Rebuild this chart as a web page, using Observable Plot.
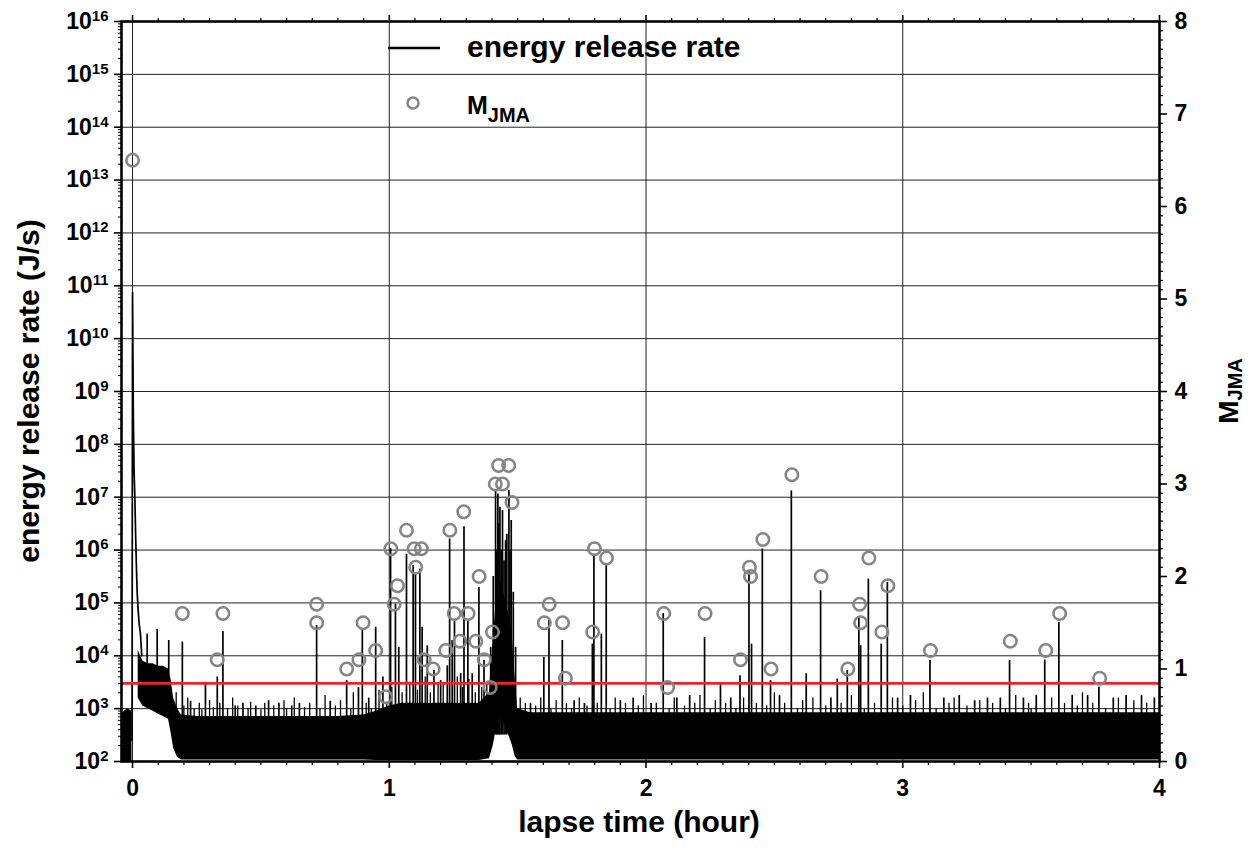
<!DOCTYPE html>
<html><head><meta charset="utf-8">
<script src="https://cdn.jsdelivr.net/npm/d3@7"></script>
<script src="https://cdn.jsdelivr.net/npm/@observablehq/plot@0.6"></script>
<style>
body{margin:0;background:#fff;}
#wrap{position:relative;width:1260px;height:856px;}
#wrap svg{position:absolute;left:0;top:0;}
</style></head><body><div id="wrap"></div>
<script>
// ---- data ----
// background noise envelope of the energy release rate (log10 J/s)
const bandT  = [-0.043,-0.02,-0.002,0,0.022,0.04,0.06,0.08,0.10,0.12,0.14,0.15,0.16,0.175,0.19,0.25,0.3,0.4,0.5,0.6,0.7,0.8,0.9,0.95,1.0,1.05,1.1,1.15,1.2,1.25,1.3,1.35,1.39,1.405,1.42,1.435,1.45,1.465,1.48,1.49,1.5,1.55,1.6,1.7,1.8,1.9,2.0,2.2,2.4,2.6,2.8,3.0,3.2,3.4,3.6,3.8,4.0];
const bandLo = [2.0,2.0,2.0,null,3.2,3.05,3.0,2.95,2.9,2.85,2.8,2.55,2.25,2.08,2.03,2.03,2.03,2.03,2.03,2.03,2.03,2.03,2.03,2.02,2.02,2.02,2.02,2.02,2.02,2.02,2.02,2.02,2.05,2.3,2.7,2.8,2.7,2.5,2.3,2.1,2.03,2.03,2.03,2.03,2.03,2.03,2.03,2.03,2.03,2.03,2.03,2.03,2.03,2.03,2.03,2.03,2.03];
const bandHi = [2.9,3.0,2.95,null,4.1,3.9,3.85,3.85,3.8,3.8,3.75,3.55,3.2,3.0,2.88,2.85,2.85,2.85,2.85,2.85,2.85,2.85,2.88,2.95,3.05,3.1,3.1,3.1,3.1,3.1,3.1,3.1,3.3,4.3,5.2,5.4,5.1,4.8,4.3,3.6,3.0,2.92,2.92,2.92,2.92,2.92,2.92,2.92,2.92,2.92,2.92,2.92,2.92,2.92,2.92,2.92,2.92];
// main shock and its decay (log10 J/s)
const shockT   = [-0.002,0,0.003,0.006,0.009,0.012,0.015,0.018,0.022,0.026,0.031,0.036];
const shockLog = [2.4,10.87,8.6,7.5,7.0,6.3,5.7,5.2,4.85,4.6,4.4,4.0];
// individual spikes: time (hour) and peak (log10 J/s)
const spikeT   = [0.057,0.096,0.141,0.194,0.226,0.284,0.33,0.352,0.40,0.43,0.48,0.53,0.57,0.62,0.65,0.717,0.77,0.834,0.88,0.895,0.92,0.947,0.975,1.005,1.024,1.037,1.067,1.093,1.102,1.119,1.128,1.148,1.174,1.2,1.226,1.235,1.245,1.254,1.278,1.291,1.306,1.323,1.349,1.369,1.395,1.405,1.414,1.418,1.423,1.427,1.431,1.436,1.441,1.447,1.453,1.458,1.466,1.47,1.475,1.483,1.492,1.55,1.602,1.622,1.674,1.72,1.76,1.791,1.797,1.826,1.845,1.9,1.95,2.02,2.067,2.12,2.17,2.228,2.29,2.33,2.366,2.401,2.411,2.453,2.485,2.52,2.566,2.624,2.68,2.72,2.745,2.784,2.829,2.836,2.866,2.916,2.94,2.98,3.03,3.106,3.16,3.22,3.28,3.33,3.38,3.416,3.47,3.52,3.553,3.608,3.66,3.72,3.764,3.82,3.87,3.93,3.98];
const spikeLog = [4.41,4.5,4.29,4.26,3.14,3.5,3.6,4.46,3.05,3.1,3.05,3.15,3.1,3.05,3.1,4.57,3.14,3.53,3.4,4.48,3.2,4.54,3.6,6.03,4.98,4.16,5.92,5.71,5.55,5.64,4.54,4.19,3.72,3.53,3.81,6.21,4.29,4.67,3.66,6.44,4.67,3.66,5.29,3.91,4.16,5.5,7.12,6.0,7.06,6.5,6.81,6.0,6.75,5.8,6.18,6.3,7.12,6.0,6.56,5.2,4.16,3.1,3.97,4.67,4.29,3.15,3.1,4.22,5.92,4.41,5.71,3.15,3.2,3.1,4.80,3.2,3.25,4.35,3.47,3.2,3.62,5.61,4.22,6.02,3.53,3.25,7.12,3.66,5.23,3.2,3.56,3.72,4.73,4.19,5.45,4.22,5.39,3.2,3.25,3.91,3.2,3.25,3.15,3.2,3.2,3.91,3.2,3.25,3.92,4.63,3.25,3.25,3.41,3.2,3.25,3.25,3.2];
// small noise peaks above the background band: time (hour) and peak (log10 J/s)
const minorT   = [0.17,0.2,0.215,0.24,0.26,0.27,0.3,0.315,0.34,0.37,0.39,0.41,0.45,0.46,0.5,0.515,0.55,0.59,0.6,0.63,0.67,0.69,0.73,0.75,0.79,0.81,0.85,0.86,0.91,0.93,0.96,0.99,1.01,1.05,1.08,1.11,1.14,1.16,1.19,1.21,1.265,1.285,1.31,1.335,1.36,1.38,1.51,1.53,1.57,1.59,1.63,1.65,1.69,1.71,1.74,1.77,1.81,1.86,1.88,1.92,1.97,1.99,2.04,2.09,2.11,2.15,2.19,2.21,2.25,2.27,2.31,2.35,2.38,2.43,2.47,2.5,2.54,2.59,2.61,2.65,2.7,2.76,2.8,2.85,2.89,2.96,3.0,3.05,3.08,3.13,3.18,3.2,3.25,3.3,3.35,3.4,3.44,3.49,3.5,3.58,3.63,3.68,3.7,3.74,3.79,3.84,3.9,3.95];
const minorLog = [3.3,3.05,3.2,3.0,3.1,2.98,3.15,3.02,3.1,3.0,3.2,3.05,3.0,3.12,2.98,3.1,3.05,3.15,3.0,3.2,3.02,3.1,3.0,3.25,3.05,3.15,3.0,3.3,3.1,3.0,3.35,3.1,3.4,3.3,3.5,3.35,3.6,3.3,3.45,3.5,3.6,3.4,3.55,3.3,3.4,3.5,3.2,3.1,3.05,3.2,3.0,3.15,3.1,3.0,3.2,3.05,3.1,3.0,3.2,3.1,3.05,3.25,3.1,3.0,3.2,3.05,3.1,3.25,3.0,3.15,3.1,3.0,3.2,3.1,3.05,3.3,3.1,3.0,3.15,3.2,3.05,3.1,3.25,3.0,3.1,3.2,3.05,3.15,3.3,3.0,3.1,3.2,3.05,3.15,3.1,3.0,3.25,3.1,3.0,3.2,3.1,3.05,3.3,3.1,3.0,3.2,3.15,3.1];
// earthquakes: time (hour) and magnitude M_JMA
const quakeT = [0.0,0.194,0.33,0.352,0.717,0.717,0.834,0.882,0.898,0.947,0.986,1.006,1.019,1.032,1.067,1.097,1.103,1.125,1.136,1.171,1.22,1.236,1.253,1.275,1.29,1.307,1.337,1.35,1.37,1.393,1.402,1.413,1.426,1.441,1.465,1.478,1.604,1.623,1.675,1.686,1.792,1.799,1.846,2.069,2.084,2.23,2.368,2.403,2.407,2.455,2.487,2.568,2.682,2.786,2.832,2.836,2.868,2.919,2.942,3.108,3.419,3.557,3.611,3.767];
const quakeM = [6.5,1.6,1.1,1.6,1.7,1.5,1.0,1.1,1.5,1.2,0.7,2.3,1.7,1.9,2.5,2.3,2.1,2.3,1.1,1.0,1.2,2.5,1.6,1.3,2.7,1.6,1.3,2.0,1.1,0.8,1.4,3.0,3.2,3.0,3.2,2.8,1.5,1.7,1.5,0.9,1.4,2.3,2.2,1.6,0.8,1.6,1.1,2.1,2.0,2.4,1.0,3.1,2.0,1.0,1.7,1.5,2.2,1.4,1.9,1.2,1.3,1.2,1.6,0.9];
const threshold = 3000;           // J/s, red line
const xTicks = [0,1,2,3,4];
const xDomain = [-0.043, 4];
const yExpTicks = [2,3,4,5,6,7,8,9,10,11,12,13,14,15,16];
const mTicks = [0,1,2,3,4,5,6,7,8];

// ---- derived tables ----
const band = bandT.map((t,i)=>({t, lo: bandLo[i]==null?NaN:10**bandLo[i], hi: bandHi[i]==null?NaN:10**bandHi[i]}));
const shock = shockT.map((t,i)=>({t, v:10**shockLog[i]}));
const spikes = spikeT.map((t,i)=>({t, v:10**spikeLog[i], b: t<0.15 ? 10**3.5 : 10**2.5}));
const minors = minorT.map((t,i)=>({t, v:10**minorLog[i], b:10**2.5}));
const quakes = quakeT.map((t,i)=>({t, m:quakeM[i]}));
const xMinor = d3.range(0,40).map(i=>i/10).filter(v=>!Number.isInteger(v));
const yMajor = yExpTicks.map(e=>10**e);
const yMinor = []; yExpTicks.slice(0,-1).forEach(e=>{for(let k=2;k<=9;k++) yMinor.push(k*10**e);});
const gridYv = yExpTicks.slice(1,-1).map(e=>10**e);
const mMinor = d3.range(0,80).map(i=>i/10).filter(v=>!Number.isInteger(v));

const W=1260,H=856;
const margins = {marginLeft:121, marginRight:101, marginTop:21, marginBottom:95};
const font = "bold 23px 'Liberation Sans', Arial, Helvetica, sans-serif";

const p1 = Plot.plot({
  width:W, height:H, ...margins,
  style:{font, background:"white", color:"black", overflow:"visible"},
  x:{domain:xDomain},
  y:{type:"log", domain:[1e2,1e16]},
  marks:[
    Plot.gridX({ticks:[0,1,2,3], stroke:"#222", strokeOpacity:1, strokeWidth:1}),
    Plot.gridY({ticks:gridYv, stroke:"#222", strokeOpacity:1, strokeWidth:1}),
    Plot.areaY(band, {x:"t", y1:"lo", y2:"hi", fill:"black"}),
    Plot.ruleX(minors, {x:"t", y1:"b", y2:"v", stroke:"black", strokeWidth:1.3}),
    Plot.ruleX(spikes, {x:"t", y1:"b", y2:"v", stroke:"black", strokeWidth:1.7}),
    Plot.line(shock, {x:"t", y:"v", stroke:"black", strokeWidth:1.7}),
    Plot.ruleY([threshold], {stroke:"#ec2328", strokeWidth:2.6}),
    Plot.axisX({anchor:"bottom", ticks:xTicks, tickSize:7, tickPadding:11, strokeWidth:1.6, label:null, tickFormat:d=>String(d)}),
    Plot.axisX({anchor:"bottom", ticks:xMinor, tickSize:4, strokeWidth:1.2, label:null, tickFormat:()=>""}),
    Plot.axisX({anchor:"top", ticks:xTicks, tickSize:7, strokeWidth:1.6, label:null, tickFormat:()=>""}),
    Plot.axisX({anchor:"top", ticks:xMinor, tickSize:4, strokeWidth:1.2, label:null, tickFormat:()=>""}),
    Plot.axisY({anchor:"left", ticks:yMajor, tickSize:7, tickPadding:6, strokeWidth:1.6, label:null, tickFormat:d=>String(Math.round(Math.log10(d)))}),
    Plot.axisY({anchor:"left", ticks:yMinor, tickSize:3, strokeWidth:1, label:null, tickFormat:()=>""}),
    Plot.frame({stroke:"black", strokeWidth:2.6})
  ]
});

const p2 = Plot.plot({
  width:W, height:H, ...margins,
  style:{font, background:"transparent", color:"black", overflow:"visible"},
  x:{domain:xDomain, axis:null},
  y:{domain:[0,8]},
  marks:[
    Plot.dot(quakes, {x:"t", y:"m", r:6.2, stroke:"#858585", strokeWidth:2.6, fill:"none"}),
    Plot.axisY({anchor:"right", ticks:mTicks, tickSize:7, tickPadding:8, strokeWidth:1.6, label:null, tickFormat:d=>String(d)}),
    Plot.axisY({anchor:"right", ticks:mMinor, tickSize:3, strokeWidth:1.2, label:null, tickFormat:()=>""})
  ]
});

// superscript exponents on the log axis
d3.select(p1).selectAll('g[aria-label="y-axis tick label"] text').each(function(){
  const e = this.textContent; if(!e) return;
  const s = d3.select(this); s.text(null);
  s.append("tspan").text("10");
  s.append("tspan").attr("dy","-8").attr("font-size","15px").text(e);
});

const wrap = document.getElementById("wrap");
wrap.appendChild(p1);
wrap.appendChild(p2);

// titles and legend
const svg = d3.select(wrap).append("svg").attr("width",W).attr("height",H)
  .style("font-family","'Liberation Sans', Arial, Helvetica, sans-serif").style("font-weight","bold");
svg.append("text").attr("x",639).attr("y",832).attr("text-anchor","middle").attr("font-size",30).text("lapse time (hour)");
svg.append("text").attr("transform","translate(39,391) rotate(-90)").attr("text-anchor","middle").attr("font-size",30).text("energy release rate (J/s)");
const rt = svg.append("text").attr("transform","translate(1238,391) rotate(-90)").attr("text-anchor","middle").attr("font-size",28);
rt.append("tspan").text("M");
rt.append("tspan").attr("dy",4).attr("font-size",20).text("JMA");
// legend
svg.append("line").attr("x1",388).attr("x2",440).attr("y1",48).attr("y2",48).attr("stroke","black").attr("stroke-width",2.5);
svg.append("text").attr("x",467).attr("y",57).attr("font-size",30).text("energy release rate");
svg.append("circle").attr("cx",413).attr("cy",103).attr("r",5.5).attr("fill","none").attr("stroke","#858585").attr("stroke-width",2.5);
const lt = svg.append("text").attr("x",467).attr("y",114).attr("font-size",25);
lt.append("tspan").text("M");
lt.append("tspan").attr("dy",8).attr("font-size",20).text("JMA");
</script></body></html>
